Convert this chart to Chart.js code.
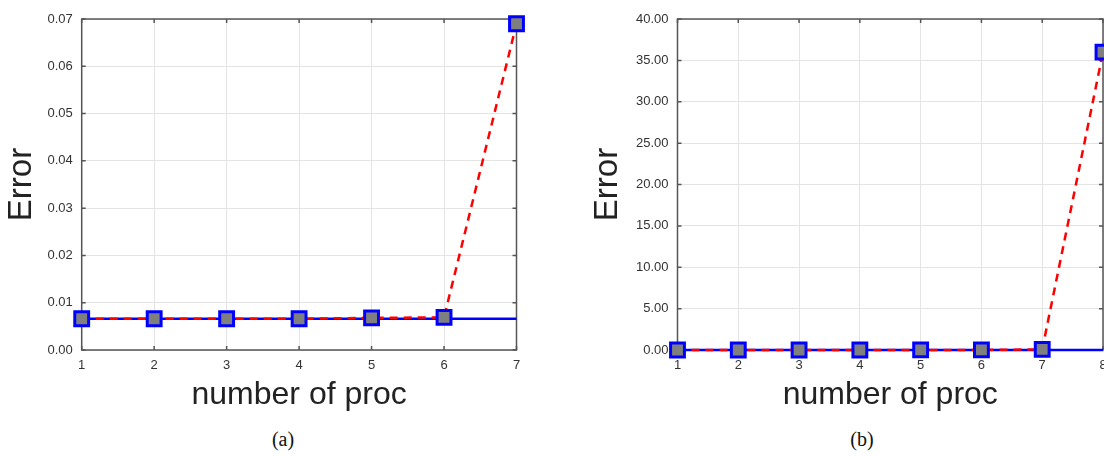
<!DOCTYPE html>
<html>
<head>
<meta charset="utf-8">
<script src="https://cdn.jsdelivr.net/npm/chart.js@4/dist/chart.umd.min.js"></script>
<style>
  body { margin: 0; width: 1104px; height: 456px; overflow: hidden; background: #fff; position: relative; }
  .wrap { position: absolute; top: 0; }
  .cap { position: absolute; top: 428px; font: 20px "Liberation Serif", serif; color: #111; transform: translateX(-50%); }
</style>
</head>
<body>
<div class="wrap" style="left:0"><canvas id="chartA" width="540" height="420"></canvas></div>
<div class="wrap" style="left:560px"><canvas id="chartB" width="560" height="420"></canvas></div>
<div class="cap" style="left:283px">(a)</div>
<div class="cap" style="left:862px">(b)</div>
<script>
// panel (a)
const procsA = [1, 2, 3, 4, 5, 6, 7];
const errorA = [0.0066, 0.0066, 0.0066, 0.0066, 0.0068, 0.0069, 0.069];
const baseA = [0.0066, 0.0066, 0.0066, 0.0066, 0.0066, 0.0066, 0.0066];
const yTicksA = { min: 0, max: 0.07, step: 0.01 };

// panel (b)
const procsB = [1, 2, 3, 4, 5, 6, 7, 8];
const errorB = [0.0066, 0.0066, 0.0066, 0.0066, 0.0068, 0.0069, 0.069, 36.0];
const baseB = [0.0066, 0.0066, 0.0066, 0.0066, 0.0066, 0.0066, 0.0066, 0.0066];
const yTicksB = { min: 0, max: 40, step: 5 };

// box round the plot with small inward ticks on all four sides
const frameBox = {
    id: 'frameBox',
    beforeDatasetsDraw(chart) {
        const { ctx, chartArea: a, scales: { x, y } } = chart;
        ctx.save();
        ctx.strokeStyle = '#555';
        ctx.lineWidth = 1.5;
        ctx.strokeRect(a.left, a.top, a.right - a.left, a.bottom - a.top);
        ctx.beginPath();
        x.ticks.forEach(t => {
            const px = x.getPixelForValue(t.value);
            ctx.moveTo(px, a.top); ctx.lineTo(px, a.top + 4);
            ctx.moveTo(px, a.bottom); ctx.lineTo(px, a.bottom - 4);
        });
        y.ticks.forEach(t => {
            const py = y.getPixelForValue(t.value);
            ctx.moveTo(a.left, py); ctx.lineTo(a.left + 4, py);
            ctx.moveTo(a.right, py); ctx.lineTo(a.right - 4, py);
        });
        ctx.stroke();
        ctx.restore();
    }
};

function makeChart(id, procs, errors, base, yt, yWidth, padRight, titlePad) {
    const ctx = document.getElementById(id).getContext('2d');
    return new Chart(ctx, {
        type: 'line',
        data: {
            datasets: [{
                label: 'Error',
                data: procs.map((p, i) => ({ x: p, y: errors[i] })),
                borderColor: '#ff0000',
                borderWidth: 2.5,
                borderDash: [8, 6],
                pointStyle: 'rect',
                pointRadius: 9.8,
                pointBackgroundColor: '#7f7f7f',
                pointBorderColor: '#0000ff',
                pointBorderWidth: 3,
                clip: false
            }, {
                label: 'Reference',
                data: procs.map((p, i) => ({ x: p, y: base[i] })),
                borderColor: '#0000ff',
                borderWidth: 2.5,
                pointRadius: 0,
                clip: false
            }]
        },
        options: {
            responsive: false,
            animation: false,
            layout: { padding: { top: 19, right: padRight, left: 0, bottom: 0 } },
            plugins: { legend: { display: false }, tooltip: { enabled: false } },
            scales: {
                x: {
                    type: 'linear',
                    min: procs[0],
                    max: procs[procs.length - 1],
                    afterFit: s => { s.height = 70; },
                    grid: { color: '#e4e4e4', drawTicks: false },
                    border: { display: false },
                    ticks: {
                        stepSize: 1,
                        padding: 8,
                        color: '#333',
                        font: { family: 'Liberation Sans', size: 13 }
                    },
                    title: {
                        display: true,
                        text: 'number of proc',
                        color: '#222',
                        padding: { top: 0, bottom: 6 },
                        font: { family: 'Liberation Sans', size: 32 }
                    }
                },
                y: {
                    min: yt.min,
                    max: yt.max,
                    afterFit: s => { s.width = yWidth; },
                    grid: { color: '#e4e4e4', drawTicks: false },
                    border: { display: false },
                    ticks: {
                        stepSize: yt.step,
                        padding: 9,
                        color: '#333',
                        font: { family: 'Liberation Sans', size: 13 },
                        callback: v => v.toFixed(2)
                    },
                    title: {
                        display: true,
                        text: 'Error',
                        color: '#222',
                        padding: { top: titlePad, bottom: 0 },
                        font: { family: 'Liberation Sans', size: 33 }
                    }
                }
            }
        },
        plugins: [frameBox]
    });
}

makeChart('chartA', procsA, errorA, baseA, yTicksA, 81.7, 23.5, 2);
makeChart('chartB', procsB, errorB, baseB, yTicksB, 117.5, 17, 28);
</script>
</body>
</html>
